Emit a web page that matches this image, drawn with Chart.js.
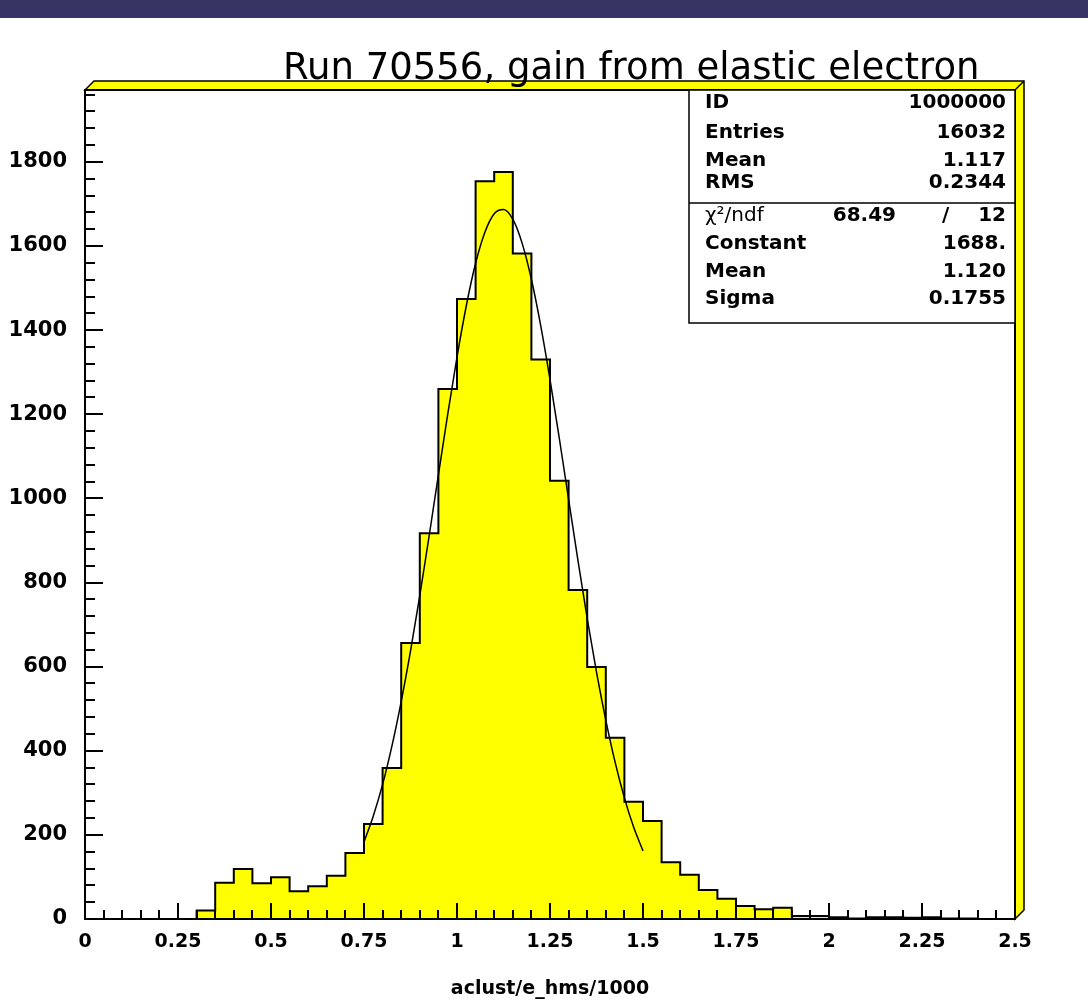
<!DOCTYPE html>
<html>
<head>
<meta charset="utf-8">
<script src="https://cdn.jsdelivr.net/npm/chart.js@4.4.0/dist/chart.umd.min.js"></script>
<style>
  html, body { margin: 0; padding: 0; background: #fff; }
</style>
</head>
<body>
<canvas id="grafico-histo" width="1088" height="1008"></canvas>
<script>
// bordes de los bins (0 .. 2.5, ancho 0.05)
const binEdges = [0, 0.05, 0.1, 0.15, 0.2, 0.25, 0.3, 0.35, 0.4, 0.45,
  0.5, 0.55, 0.6, 0.65, 0.7, 0.75, 0.8, 0.85, 0.9, 0.95,
  1.0, 1.05, 1.1, 1.15, 1.2, 1.25, 1.3, 1.35, 1.4, 1.45,
  1.5, 1.55, 1.6, 1.65, 1.7, 1.75, 1.8, 1.85, 1.9, 1.95,
  2.0, 2.05, 2.1, 2.15, 2.2, 2.25, 2.3, 2.35, 2.4, 2.45, 2.5];

// entradas por bin
const counts = [0, 0, 0, 0, 0, 0, 20, 86, 119, 85,
  99, 66, 78, 103, 157, 226, 359, 656, 917, 1260,
  1474, 1754, 1776, 1582, 1330, 1042, 782, 599, 431, 279,
  233, 135, 105, 69, 48, 31, 23, 27, 7, 7,
  4, 1, 4, 4, 3, 4, 1, 1, 0, 0];

// curva del ajuste gaussiano
const fitX = [0.75, 0.775, 0.8, 0.825, 0.85, 0.875, 0.9, 0.925, 0.95, 0.975,
  1.0, 1.025, 1.05, 1.075, 1.1, 1.125, 1.15, 1.175, 1.2, 1.225,
  1.25, 1.275, 1.3, 1.325, 1.35, 1.375, 1.4, 1.425, 1.45, 1.475, 1.5];
const fitY = [183, 245, 320, 411, 517, 637, 769, 910, 1056, 1200,
  1336, 1458, 1559, 1633, 1677, 1687, 1664, 1607, 1521, 1411,
  1283, 1143, 998, 853, 715, 587, 473, 373, 288, 218, 162];

const xTickValues = [0, 0.25, 0.5, 0.75, 1, 1.25, 1.5, 1.75, 2, 2.25, 2.5];
const xTickLabels = ['0', '0.25', '0.5', '0.75', '1', '1.25', '1.5', '1.75', '2', '2.25', '2.5'];
const yTickValues = [0, 200, 400, 600, 800, 1000, 1200, 1400, 1600, 1800];
const yTickLabels = ['0', '200', '400', '600', '800', '1000', '1200', '1400', '1600', '1800'];
const yMax = 1971;

const titulo = 'Run 70556, gain from elastic electron';
const tituloEjeX = 'aclust/e_hms/1000';

const statNames = ['ID', 'Entries', 'Mean', 'RMS'];
const statValues = ['1000000', '16032', '1.117', '0.2344'];
const fitNames = ['Constant', 'Mean', 'Sigma'];
const fitValues = ['1688.', '1.120', '0.1755'];
const chi2 = '68.49';
const ndf = '12';

const AMARILLO = '#ffff00';
const fuente = 'DejaVu Sans';

// marco estilo ROOT: bisel, ticks hacia dentro, caja de estadisticas y titulo
const marcoRoot = {
  id: 'marcoRoot',
  beforeDraw(chart) {
    const { ctx, chartArea: a } = chart;
    const b = 9;
    ctx.save();
    ctx.fillStyle = '#fff';
    ctx.fillRect(0, 0, chart.width, chart.height);
    ctx.fillStyle = '#353463';
    ctx.fillRect(0, 0, chart.width, 18);

    ctx.beginPath();
    ctx.moveTo(a.left, a.top);
    ctx.lineTo(a.left + b, a.top - b);
    ctx.lineTo(a.right + b, a.top - b);
    ctx.lineTo(a.right + b, a.bottom - b);
    ctx.lineTo(a.right, a.bottom);
    ctx.lineTo(a.right, a.top);
    ctx.closePath();
    ctx.fillStyle = AMARILLO;
    ctx.fill();
    ctx.strokeStyle = '#000';
    ctx.lineWidth = 1.5;
    ctx.stroke();
    ctx.beginPath();
    ctx.moveTo(a.right, a.top);
    ctx.lineTo(a.right + b, a.top - b);
    ctx.stroke();
    ctx.restore();
  },
  afterDraw(chart) {
    const { ctx, chartArea: a } = chart;
    const sx = chart.scales.x, sy = chart.scales.y;
    ctx.save();
    ctx.strokeStyle = '#000';
    ctx.lineWidth = 2;
    ctx.strokeRect(a.left, a.top, a.right - a.left, a.bottom - a.top);

    // ticks eje x
    ctx.beginPath();
    for (let k = 0; k <= 50; k++) {
      const px = Math.round(sx.getPixelForValue(k * 0.05));
      const len = k % 5 === 0 ? 16 : 9;
      ctx.moveTo(px, a.bottom);
      ctx.lineTo(px, a.bottom - len);
    }
    // ticks eje y
    for (let k = 0; k * 40 <= yMax; k++) {
      const py = Math.round(sy.getPixelForValue(k * 40));
      const len = k % 5 === 0 ? 18 : 10;
      ctx.moveTo(a.left, py);
      ctx.lineTo(a.left + len, py);
    }
    ctx.stroke();

    // caja de estadisticas
    const bx = 689, by = a.top, bw = a.right - bx, bh = 233, sep = 203;
    ctx.fillStyle = '#fff';
    ctx.fillRect(bx, by, bw, bh);
    ctx.lineWidth = 1.5;
    ctx.strokeRect(bx, by, bw, bh);
    ctx.beginPath();
    ctx.moveTo(bx, sep);
    ctx.lineTo(bx + bw, sep);
    ctx.stroke();

    ctx.fillStyle = '#000';
    ctx.textBaseline = 'alphabetic';
    ctx.font = 'bold 20px "' + fuente + '"';
    const xl = 705, xr = 1006;
    const filas1 = [108, 138, 166, 188];
    statNames.forEach((n, i) => {
      ctx.textAlign = 'left';
      ctx.fillText(n, xl, filas1[i]);
      ctx.textAlign = 'right';
      ctx.fillText(statValues[i], xr, filas1[i]);
    });
    const filas2 = [249, 277, 304];
    fitNames.forEach((n, i) => {
      ctx.textAlign = 'left';
      ctx.fillText(n, xl, filas2[i]);
      ctx.textAlign = 'right';
      ctx.fillText(fitValues[i], xr, filas2[i]);
    });
    // fila chi2
    const yChi = 221;
    ctx.textAlign = 'right';
    ctx.fillText(chi2, 896, yChi);
    ctx.fillText(ndf, xr, yChi);
    ctx.textAlign = 'left';
    ctx.fillText('/', 942, yChi);
    ctx.font = '20px "' + fuente + '"';
    ctx.fillText('\u03c7\u00b2/ndf', xl, yChi);

    // titulo
    ctx.font = '37px "' + fuente + '"';
    ctx.textAlign = 'left';
    ctx.fillText(titulo, 283, 79);
    ctx.restore();
  }
};

const histPuntos = binEdges.map((x, i) => ({ x: x, y: i < counts.length ? counts[i] : counts[counts.length - 1] }));
const fitPuntos = fitX.map((x, i) => ({ x: x, y: fitY[i] }));

new Chart(document.getElementById('grafico-histo'), {
  type: 'line',
  data: {
    datasets: [{
      data: fitPuntos,
      borderColor: '#000',
      borderWidth: 1.5,
      pointRadius: 0,
      fill: false,
      cubicInterpolationMode: 'monotone',
      order: 0
    }, {
      data: histPuntos,
      stepped: true,
      borderColor: '#000',
      borderWidth: 2,
      backgroundColor: AMARILLO,
      pointRadius: 0,
      fill: 'origin',
      order: 1
    }]
  },
  options: {
    responsive: false,
    animation: false,
    devicePixelRatio: 1,
    layout: { padding: { left: 0, right: 73, top: 90, bottom: 0 } },
    scales: {
      x: {
        type: 'linear',
        min: 0,
        max: 2.5,
        afterFit: s => { s.height = 89; },
        afterBuildTicks: s => { s.ticks = xTickValues.map(v => ({ value: v })); },
        grid: { display: false, drawTicks: false },
        border: { display: false },
        ticks: {
          callback: (v, i) => xTickLabels[i],
          color: '#000',
          font: { family: fuente, weight: 'bold', size: 19 },
          maxRotation: 0,
          autoSkip: false,
          padding: 12
        },
        title: {
          display: true,
          text: tituloEjeX,
          color: '#000',
          font: { family: fuente, weight: 'bold', size: 19 },
          padding: { top: 0, bottom: 8 }
        }
      },
      y: {
        min: 0,
        max: yMax,
        afterFit: s => { s.width = 85; },
        afterBuildTicks: s => { s.ticks = yTickValues.map(v => ({ value: v })); },
        grid: { display: false, drawTicks: false },
        border: { display: false },
        ticks: {
          callback: (v, i) => yTickLabels[i],
          color: '#000',
          font: { family: fuente, weight: 'bold', size: 21 },
          padding: 18
        }
      }
    },
    plugins: {
      legend: { display: false },
      tooltip: { enabled: false }
    }
  },
  plugins: [marcoRoot]
});
</script>
</body>
</html>
